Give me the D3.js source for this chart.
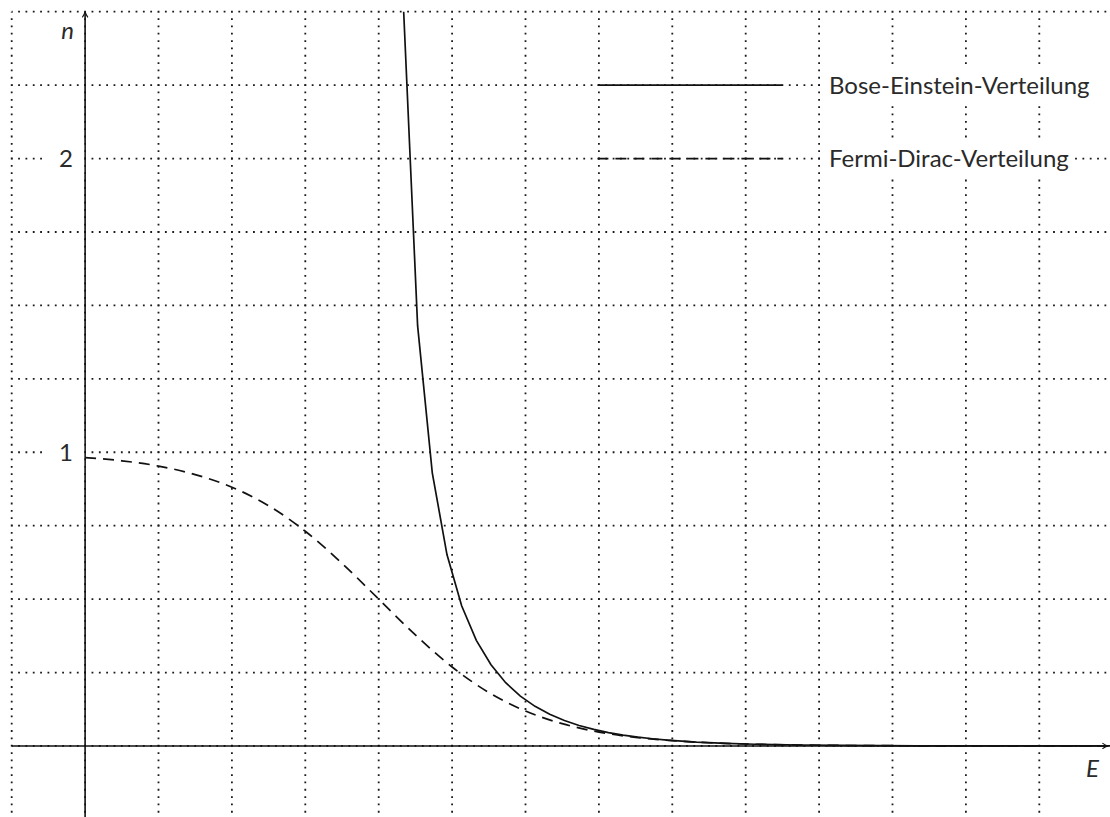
<!DOCTYPE html>
<html>
<head>
<meta charset="utf-8">
<script src="https://cdn.jsdelivr.net/npm/d3@7"></script>
<style>
  html, body { margin: 0; padding: 0; background: #fff; }
  svg { display: block; }
  text { font-family: Lato, "Open Sans", "DejaVu Sans", sans-serif; font-weight: 400; fill: #2a2a2a; }
</style>
</head>
<body>
<svg id="chart" width="1110" height="817"></svg>
<script>
// values (E in grid units, n in occupation number)
const feX = [0, 0.5, 1, 1.5, 2, 2.5, 3, 3.5, 4, 4.5, 5, 5.5, 6, 6.5, 7, 7.5, 8, 8.5, 9, 10, 11, 12, 13, 14];
const feN = [0.982, 0.971, 0.953, 0.924, 0.881, 0.818, 0.731, 0.622, 0.5, 0.378, 0.269, 0.182, 0.119,
  0.0759, 0.0474, 0.0293, 0.018, 0.011, 0.0067, 0.0025, 0.0009, 0.0003, 0.0001, 0.00005];
const beX = [4.33, 4.53, 4.73, 4.93, 5.13, 5.33, 5.53, 5.73, 5.93, 6.13, 6.33, 6.53, 6.73, 6.93,
  7.13, 7.33, 7.53, 7.73, 7.93, 8.33, 8.73, 9.13, 9.73, 10.33, 11.33, 12.33, 13.33, 14];
const beN = [2.558, 1.431, 0.93, 0.6517, 0.4772, 0.3596, 0.2764, 0.2155, 0.1698, 0.1349, 0.1078,
  0.0866, 0.0698, 0.0564, 0.0457, 0.0371, 0.0302, 0.0245, 0.02, 0.0133, 0.0089, 0.0059, 0.0033,
  0.0018, 0.00066, 0.00024, 0.0001, 0.00005];
const yTickLabels = [1, 2];
const legendLabels = ["Bose-Einstein-Verteilung", "Fermi-Dirac-Verteilung"];
const legendRows = [2.25, 2];

const svg = d3.select("#chart");
const x = d3.scaleLinear().domain([-1, 14]).range([11.7, 1112.7]);
const y = d3.scaleLinear().domain([-0.25, 2.5]).range([819.4, 11.7]);
const ink = "#111";

const defs = svg.append("defs");
defs.append("clipPath").attr("id", "plot-clip")
  .append("rect")
  .attr("x", x(-1)).attr("y", y(2.5))
  .attr("width", x(14) - x(-1)).attr("height", y(-0.25) - y(2.5));
defs.append("marker")
  .attr("id", "arrow")
  .attr("viewBox", "0 0 10 10")
  .attr("refX", 9).attr("refY", 5)
  .attr("markerWidth", 7).attr("markerHeight", 7)
  .attr("markerUnits", "userSpaceOnUse")
  .attr("orient", "auto")
  .append("path")
  .attr("d", "M1,1 Q5,4 9,5 Q5,6 1,9")
  .attr("fill", "none")
  .attr("stroke", ink)
  .attr("stroke-width", 1.6);

// dotted grid
const cell = x(1) - x(0);
const dot = 1.8;
const grid = svg.append("g")
  .attr("stroke", "#1a1a1a")
  .attr("stroke-width", dot)
  .attr("stroke-dasharray", `${dot},${cell / 10 - dot}`)
  .attr("stroke-dashoffset", dot / 2);
grid.selectAll("line.v")
  .data(d3.range(-1, 15))
  .join("line")
  .attr("class", "v")
  .attr("x1", (d) => x(d)).attr("x2", (d) => x(d))
  .attr("y1", y(2.5)).attr("y2", y(-0.25));
grid.selectAll("line.h")
  .data(d3.range(-1, 11).map((k) => k * 0.25))
  .join("line")
  .attr("class", "h")
  .attr("x1", x(-1)).attr("x2", x(14))
  .attr("y1", (d) => y(d)).attr("y2", (d) => y(d));

// axes
svg.append("line")
  .attr("x1", x(-1)).attr("x2", 1108)
  .attr("y1", y(0)).attr("y2", y(0))
  .attr("stroke", ink).attr("stroke-width", 1.6)
  .attr("marker-end", "url(#arrow)");
svg.append("line")
  .attr("x1", x(0)).attr("x2", x(0))
  .attr("y1", y(-0.25)).attr("y2", y(2.5))
  .attr("stroke", ink).attr("stroke-width", 1.6)
  .attr("marker-end", "url(#arrow)");

// tick labels on white
const ticks = svg.append("g");
ticks.selectAll("rect")
  .data(yTickLabels)
  .join("rect")
  .attr("x", 46).attr("y", (d) => y(d) - 16)
  .attr("width", x(0) - 47).attr("height", 32)
  .attr("fill", "#fff");
ticks.selectAll("text")
  .data(yTickLabels)
  .join("text")
  .attr("x", 73).attr("y", (d) => y(d))
  .attr("dy", "0.35em")
  .attr("text-anchor", "end")
  .attr("font-size", 24)
  .text((d) => d);

svg.append("text")
  .attr("x", 74).attr("y", 39)
  .attr("text-anchor", "end")
  .attr("font-size", 24)
  .attr("font-style", "italic")
  .text("n");
svg.append("text")
  .attr("x", 1099).attr("y", 777)
  .attr("text-anchor", "end")
  .attr("font-size", 24)
  .attr("font-style", "italic")
  .text("E");

// curves
const line = d3.line().x((d) => x(d[0])).y((d) => y(d[1]));
const plot = svg.append("g").attr("clip-path", "url(#plot-clip)")
  .attr("fill", "none").attr("stroke", ink).attr("stroke-width", 1.7);
plot.append("path")
  .attr("d", line.curve(d3.curveMonotoneX)(d3.zip(feX, feN)))
  .attr("stroke-dasharray", "11,7");
plot.append("path")
  .attr("d", line.curve(d3.curveLinear)(d3.zip(beX, beN)));

// legend
const legend = svg.append("g");
legendRows.forEach(function (row, i) {
  const ly = y(row);
  legend.append("line")
    .attr("x1", x(7) - 1.5).attr("x2", x(9.5))
    .attr("y1", ly).attr("y2", ly)
    .attr("stroke", ink).attr("stroke-width", 1.7)
    .attr("stroke-dasharray", i === 1 ? "11,7" : null);
  const label = legend.append("text")
    .attr("x", 829).attr("y", ly)
    .attr("dy", "0.35em")
    .attr("font-size", 24)
    .text(legendLabels[i]);
  const box = label.node().getBBox();
  legend.insert("rect", "text")
    .attr("x", box.x - 6).attr("y", ly - 19)
    .attr("width", box.width + (i === 0 ? 30 : 12)).attr("height", 38)
    .attr("fill", "#fff");
});
</script>
</body>
</html>
